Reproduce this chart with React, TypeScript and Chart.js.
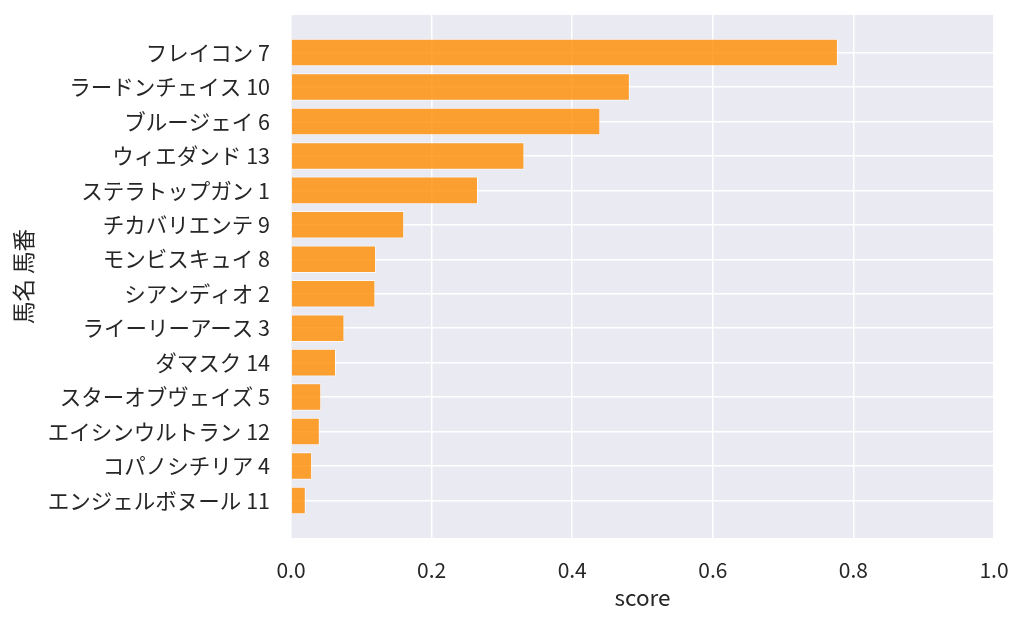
import { useEffect, useRef } from "react"
import { Chart, registerables } from "chart.js"

const horseNames = [
  "フレイコン 7",
  "ラードンチェイス 10",
  "ブルージェイ 6",
  "ウィエダンド 13",
  "ステラトップガン 1",
  "チカバリエンテ 9",
  "モンビスキュイ 8",
  "シアンディオ 2",
  "ライーリーアース 3",
  "ダマスク 14",
  "スターオブヴェイズ 5",
  "エイシンウルトラン 12",
  "コパノシチリア 4",
  "エンジェルボヌール 11",
]
const scores = [0.778, 0.482, 0.44, 0.332, 0.266, 0.161, 0.121, 0.12, 0.076, 0.064, 0.043, 0.041, 0.03, 0.021]
const xTicks = [0, 0.2, 0.4, 0.6, 0.8, 1.0]

const FONT = "'Noto Sans CJK JP', 'Noto Sans', sans-serif"
const TEXT = "#262626"

// paints the seaborn-like grey panel behind the plot
const panelBackground = {
  id: "panelBackground",
  beforeDraw(chart: Chart) {
    const { ctx, chartArea } = chart
    ctx.save()
    ctx.fillStyle = "#eaeaf2"
    ctx.fillRect(chartArea.left, chartArea.top, chartArea.right - chartArea.left, chartArea.bottom - chartArea.top)
    ctx.restore()
  },
}

export default function App() {
  const canvasRef = useRef<HTMLCanvasElement>(null)

  useEffect(() => {
    Chart.register(...registerables)
    document.body.style.margin = "0"
    if (!canvasRef.current) return

    const chart = new Chart(canvasRef.current, {
      type: "bar",
      data: {
        datasets: [
          {
            data: scores.map((v, i) => ({ x: v, y: i })),
            backgroundColor: "rgba(255, 140, 0, 0.8)",
            borderColor: "rgba(255, 255, 255, 0.7)",
            borderWidth: 1,
            categoryPercentage: 1,
            barPercentage: 0.8,
          },
        ],
      },
      options: {
        indexAxis: "y",
        responsive: false,
        animation: false,
        layout: { padding: { top: 15, right: 30, left: 0, bottom: 16 } },
        plugins: { legend: { display: false }, tooltip: { enabled: false } },
        scales: {
          x: {
            type: "linear",
            min: 0,
            max: 1,
            afterBuildTicks: (scale) => {
              scale.ticks = xTicks.map((v) => ({ value: v }))
            },
            afterFit: (scale) => {
              scale.height = 73
              scale.paddingLeft = 0
              scale.paddingRight = 0
            },
            grid: { color: "#ffffff", lineWidth: 1.5, drawTicks: false },
            border: { display: false },
            ticks: {
              padding: 19,
              color: TEXT,
              font: { family: FONT, size: 21 },
              callback: (v) => Number(v).toFixed(1),
            },
            title: {
              display: true,
              text: "score",
              color: TEXT,
              font: { family: FONT, size: 22.5 },
              padding: { top: 4, bottom: 0 },
            },
          },
          y: {
            type: "linear",
            min: -1.09,
            max: 14.09,
            reverse: true,
            offset: false,
            afterBuildTicks: (scale) => {
              scale.ticks = horseNames.map((_, i) => ({ value: i }))
            },
            afterFit: (scale) => {
              scale.width = 291
              scale.paddingTop = 0
              scale.paddingBottom = 0
            },
            grid: { color: "#ffffff", lineWidth: 1.5, drawTicks: false, offset: false },
            border: { display: false },
            ticks: {
              padding: 21,
              color: TEXT,
              font: { family: FONT, size: 21.5 },
              callback: (v) => horseNames[Number(v)] ?? "",
            },
            title: {
              display: true,
              text: "馬名 馬番",
              color: TEXT,
              font: { family: FONT, size: 22.5 },
              padding: { top: 10, bottom: 0 },
            },
          },
        },
      },
      plugins: [panelBackground],
    })

    return () => chart.destroy()
  }, [])

  return (
    <div style={{ width: 1024, height: 627 }}>
      <canvas ref={canvasRef} width={1024} height={627} style={{ display: "block" }}></canvas>
    </div>
  )
}
